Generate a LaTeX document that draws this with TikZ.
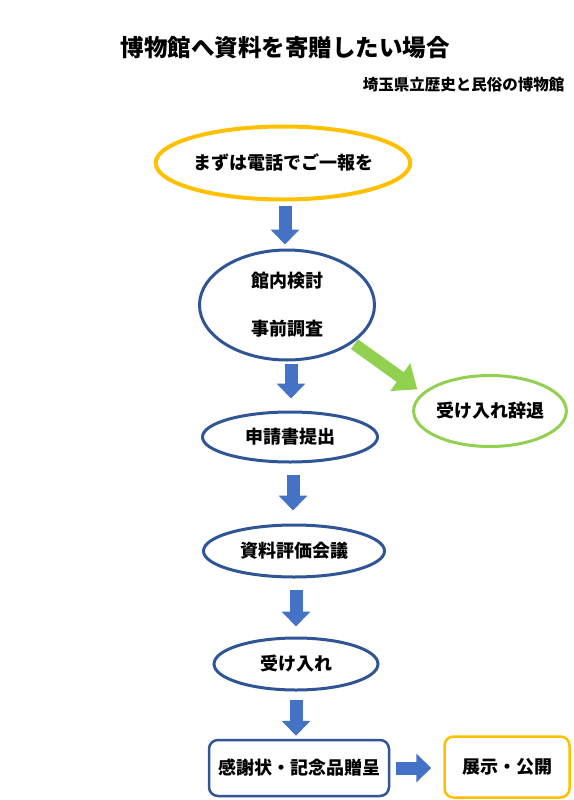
\documentclass[tikz,border=0pt]{standalone}
\usepackage{fontspec}
\setmainfont{Noto Sans CJK JP}
\usetikzlibrary{shapes.geometric,arrows.meta}
\definecolor{ogold}{HTML}{FFC000}
\definecolor{dblue}{HTML}{2F5597}
\definecolor{ablue}{HTML}{4472C4}
\definecolor{lgreen}{HTML}{92D050}
\tikzset{
  oval/.style={ellipse,draw=dblue,line width=3pt,inner sep=0pt,font=\bfseries\fontsize{18}{22}\selectfont},
  box/.style={rectangle,rounded corners=9pt,draw=dblue,line width=2.5pt,inner sep=0pt,font=\bfseries\fontsize{18}{22}\selectfont},
  blk/.style={ablue,line width=13pt,-{Triangle[width=28pt,length=15pt]}},
  grn/.style={lgreen,line width=12pt,-{Triangle[width=33pt,length=21pt]}}
}
\begin{document}
\begin{tikzpicture}[x=1pt,y=-1pt]
	\useasboundingbox (0,0) rectangle (573,800);
	% titles
	\node[font=\bfseries\fontsize{23.5}{28}\selectfont] (title) at (285,48) {博物館へ資料を寄贈したい場合};
	\node[anchor=east,font=\bfseries\fontsize{15.5}{19}\selectfont] (museum) at (568,85) {埼玉県立歴史と民俗の博物館};
	% steps
	\node[oval,draw=ogold,line width=4pt,minimum width=236,minimum height=73] (call) at (283,163) {まずは電話でご一報を};
	\node[oval,minimum width=175,minimum height=110,align=center] (study) at (287,305) {館内検討\\[26pt]事前調査};
	\node[oval,draw=lgreen,minimum width=149,minimum height=71] (decline) at (490,411) {受け入れ辞退};
	\node[oval,minimum width=175,minimum height=50] (apply) at (290,437) {申請書提出};
	\node[oval,minimum width=181,minimum height=52] (review) at (294,551) {資料評価会議};
	\node[oval,minimum width=164,minimum height=52] (accept) at (296,664) {受け入れ};
	\node[box,minimum width=180,minimum height=56] (thanks) at (299,768) {感謝状・記念品贈呈};
	\node[box,draw=ogold,minimum width=125,minimum height=61] (show) at (507,767) {展示・公開};
	% arrows
	\draw[blk,shorten <=4pt,shorten >=4pt] ([xshift=2pt]call.south) -- ([xshift=2pt]call.south |- study.north);
	\draw[blk,shorten <=2pt,shorten >=12pt] ([xshift=4pt]study.south) -- ([xshift=4pt]study.south |- apply.north);
	\draw[blk,shorten <=11pt,shorten >=13pt] ([xshift=3pt]apply.south) -- ([xshift=3pt]apply.south |- review.north);
	\draw[blk,shorten <=11pt,shorten >=10pt] ([xshift=2pt]review.south) -- ([xshift=2pt]review.south |- accept.north);
	\draw[blk,shorten <=8pt,shorten >=3pt] (accept.south) -- (accept.south |- thanks.north);
	\draw[blk,shorten <=6pt,shorten >=12pt] (thanks.east) -- (thanks.east -| show.west);
	\draw[grn,shorten <=2pt,shorten >=6pt] (study.-30) -- (decline.165);
\end{tikzpicture}
\end{document}
